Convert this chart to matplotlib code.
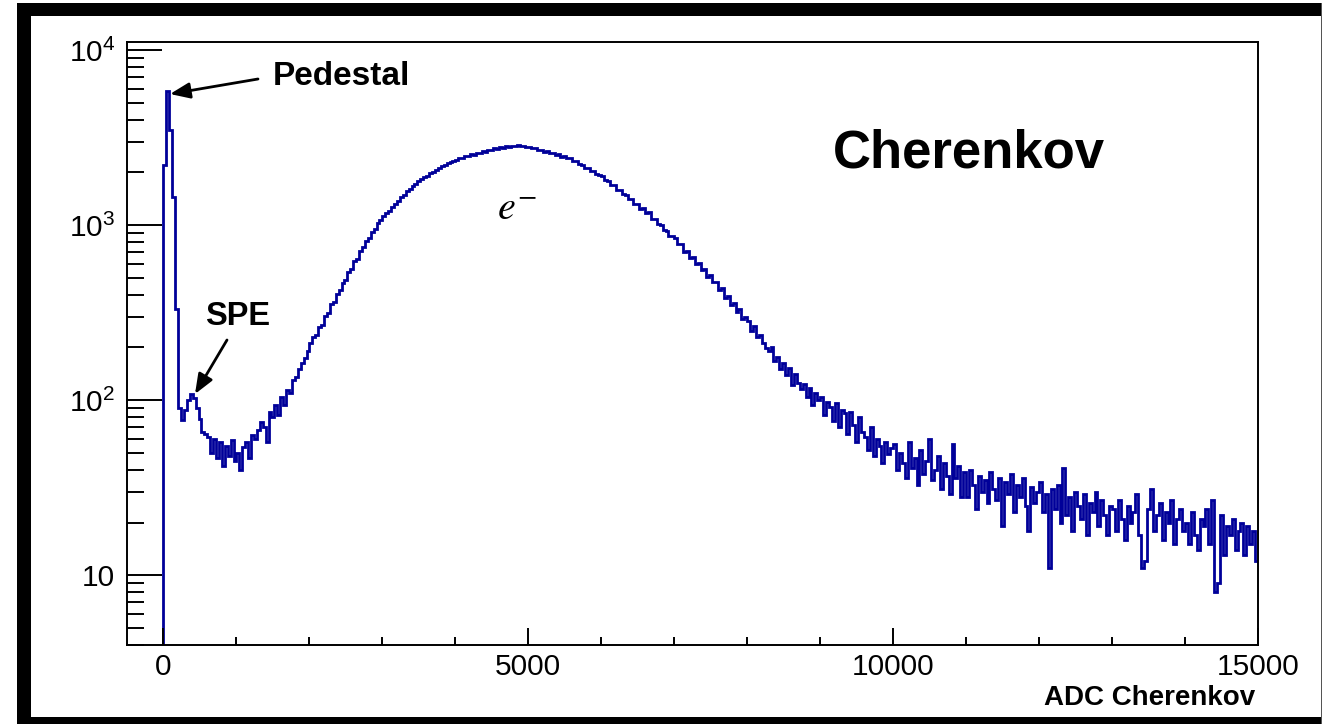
import matplotlib
matplotlib.use('Agg')
import matplotlib.pyplot as plt
import numpy as np
from matplotlib.patches import Rectangle
from matplotlib.ticker import MultipleLocator, LogLocator, NullFormatter

# ---------------- data ----------------
bin_low = 0.0          # first bin edge (ADC)
bin_width = 40.0       # ADC per bin
empty_low = -500.0     # histogram range starts here, empty below 0

counts = [
    2200, 5800, 3500, 1450, 330, 90, 77, 88, 100, 108, 103, 90, 78, 66, 64, 62, 50, 60, 47, 58, 42, 55, 48, 59, 45,
    50, 40, 54, 58, 47, 63, 60, 68, 75, 70, 58, 86, 80, 94, 82, 104, 94, 115, 110, 130, 136, 150, 162, 174, 192,
    212, 230, 236, 262, 270, 301, 316, 352, 365, 405, 424, 466, 485, 540, 562, 620, 644, 712, 745, 815, 842, 918, 952, 1025, 1068,
    1120, 1165, 1210, 1262, 1325, 1375, 1440, 1490, 1560, 1598, 1680, 1725, 1790, 1830, 1885, 1918, 1985, 2010, 2070, 2105, 2170, 2200, 2260, 2290, 2335,
    2360, 2415, 2420, 2470, 2465, 2530, 2525, 2590, 2580, 2640, 2630, 2690, 2680, 2740, 2725, 2780, 2770, 2815, 2790, 2840, 2815, 2850, 2810, 2830, 2790,
    2790, 2740, 2745, 2680, 2690, 2620, 2640, 2580, 2590, 2520, 2530, 2460, 2470, 2400, 2400, 2310, 2310, 2220, 2215, 2130, 2120, 2035, 2030, 1945, 1935,
    1900, 1810, 1790, 1700, 1690, 1595, 1590, 1500, 1490, 1410, 1400, 1320, 1320, 1240, 1250, 1170, 1180, 1090, 1085, 1010, 1005, 935, 930, 870, 870,
    845, 780, 775, 705, 715, 650, 660, 600, 610, 555, 560, 505, 520, 470, 475, 425, 435, 385, 395, 350, 358, 320, 330, 290, 298,
    285, 248, 266, 230, 236, 212, 198, 190, 201, 168, 176, 150, 164, 140, 152, 122, 142, 126, 116, 124, 104, 118, 94, 110, 100,
    104, 82, 98, 92, 76, 96, 70, 88, 84, 64, 86, 72, 58, 80, 66, 62, 52, 70, 48, 60, 55, 44, 58, 49, 53,
    56, 40, 50, 44, 36, 58, 41, 47, 33, 52, 38, 45, 60, 35, 40, 48, 31, 44, 37, 29, 56, 36, 42, 28, 39,
    28, 40, 33, 24, 37, 30, 35, 26, 39, 31, 27, 36, 19, 34, 29, 38, 23, 33, 28, 36, 25, 18, 32, 26, 30,
    34, 23, 29, 11, 31, 24, 33, 20, 41, 22, 28, 18, 30, 25, 21, 29, 17, 26, 23, 30, 19, 27, 22, 17, 25,
    24, 18, 27, 21, 16, 25, 20, 23, 29, 17, 11, 12, 24, 31, 18, 22, 26, 16, 23, 20, 27, 15, 21, 24, 18,
    20, 15, 23, 17, 14, 21, 19, 24, 15, 27, 8, 9, 22, 13, 19, 17, 21, 14, 18, 20, 13, 19, 15, 18, 12,
]

x_ticks = [0, 5000, 10000, 15000]
x_tick_labels = ['0', '5000', '10000', '15000']
y_ticks = [10, 100, 1000, 10000]
y_tick_labels = ['10', r'$\mathregular{10^{2}}$', r'$\mathregular{10^{3}}$', r'$\mathregular{10^{4}}$']

x_title = 'ADC Cherenkov'
plot_label = 'Cherenkov'
ped_label = 'Pedestal'
spe_label = 'SPE'
peak_label = r'$e^{-}$'

# ---------------- style ----------------
plt.rcParams['font.family'] = ['Liberation Sans', 'DejaVu Sans']
plt.rcParams['mathtext.fontset'] = 'custom'
plt.rcParams['mathtext.rm'] = 'Liberation Sans'
plt.rcParams['mathtext.it'] = 'Liberation Sans:italic'

W, H = 1324, 724
fig = plt.figure(figsize=(W / 100, H / 100), dpi=100)
fig.patch.set_facecolor('white')


def fx(x):
    return x / W


def fy(y):
    return 1 - y / H


ax = fig.add_axes([fx(127), fy(645), fx(1258) - fx(127), fy(42) - fy(645)])

counts_arr = np.asarray(counts, dtype=float)
edges = bin_low + bin_width * np.arange(len(counts_arr) + 1)
vals = np.concatenate([[1e-3], counts_arr])
all_edges = np.concatenate([[empty_low], edges])
ax.stairs(vals, all_edges, baseline=None, color='#000099', lw=2.0)

ax.set_yscale('log')
ax.set_xlim(-500, 15000)
ax.set_ylim(4.0, 11100)

ax.set_xticks(x_ticks, x_tick_labels)
ax.xaxis.set_minor_locator(MultipleLocator(1000))
ax.set_yticks(y_ticks, y_tick_labels)
ax.yaxis.set_minor_locator(LogLocator(base=10, subs=range(2, 10), numticks=50))
ax.yaxis.set_minor_formatter(NullFormatter())

ax.tick_params(axis='x', which='major', direction='in', length=12.2, width=1.4,
               labelsize=21.5, pad=6, top=False)
ax.tick_params(axis='x', which='minor', direction='in', length=5.8, width=1.4, top=False)
ax.tick_params(axis='y', which='major', direction='in', length=25, width=1.4,
               labelsize=21.5, pad=8.5, right=False)
ax.tick_params(axis='y', which='minor', direction='in', length=12.5, width=1.4, right=False)
for s in ax.spines.values():
    s.set_linewidth(1.4)

# ---------------- annotations ----------------
fig.text(fx(833), fy(167), plot_label, fontsize=38, fontweight='bold', ha='left', va='baseline')
fig.text(fx(1255), fy(705), x_title, fontsize=20, fontweight='bold', ha='right', va='baseline')
fig.text(fx(273), fy(85), ped_label, fontsize=24, fontweight='bold', ha='left', va='baseline')
fig.text(fx(205), fy(325), spe_label, fontsize=23.5, fontweight='bold', ha='left', va='baseline')
fig.text(fx(497), fy(220), peak_label, fontsize=29, math_fontfamily='stix', ha='left', va='baseline')

arrow_kw = dict(arrowstyle='-|>,head_length=1.0,head_width=0.4', color='black', lw=2,
                shrinkA=0, shrinkB=0, mutation_scale=12)
ax.annotate('', xy=(fx(170), fy(94)), xytext=(fx(258), fy(79)),
            xycoords='figure fraction', textcoords='figure fraction', arrowprops=arrow_kw)
ax.annotate('', xy=(fx(195), fy(394)), xytext=(fx(227), fy(340)),
            xycoords='figure fraction', textcoords='figure fraction', arrowprops=arrow_kw)

# ---------------- canvas frame ----------------
frame = [
    ((17, 3), 14, 721, 'black'),      # left band
    ((17, 3), 1305, 13, 'black'),     # top band
    ((17, 717), 1305, 7, 'black'),    # bottom band
    ((1320.5, 3), 1.5, 721, '#555555'),  # right line
]
for (x0, y0), w, h, c in frame:
    fig.add_artist(Rectangle((fx(x0), fy(y0 + h)), w / W, h / H, transform=fig.transFigure,
                             facecolor=c, edgecolor='none', zorder=10))

fig.savefig('out.png', dpi=100)
